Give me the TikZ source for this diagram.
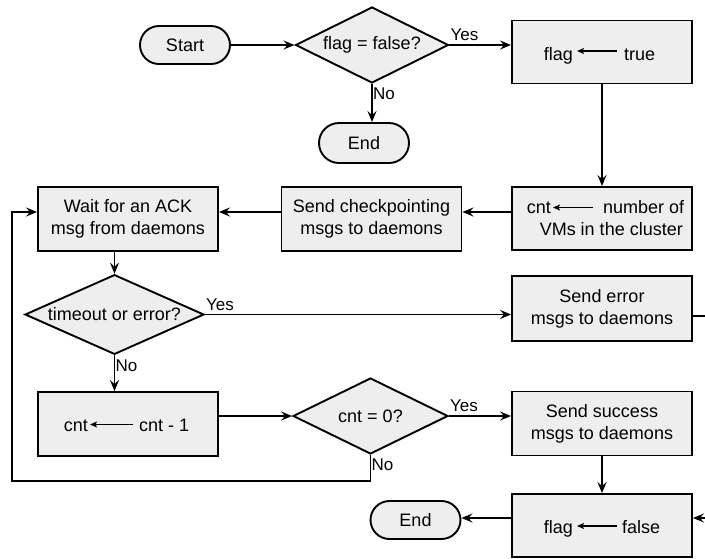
\documentclass[tikz,border=0pt]{standalone}
\usepackage{fontspec}
\setmainfont{Liberation Sans}
\usetikzlibrary{shapes.geometric,arrows.meta}
\definecolor{boxfill}{RGB}{238,238,238}
\begin{document}
\begin{tikzpicture}[x=1pt,y=-1pt,
 every node/.style={font=\fontsize{18}{22}\selectfont},
 box/.style={draw,line width=1.9pt,fill=boxfill,minimum width=180pt,minimum height=64pt,inner sep=0pt,align=center},
 term/.style={draw,line width=1.9pt,fill=boxfill,rounded corners=19pt,minimum width=90pt,minimum height=38pt,inner sep=0pt},
 dec/.style={draw,line width=1.9pt,fill=boxfill,diamond,aspect=2,inner sep=0pt},
 arr/.style={line width=1.9pt,-{Stealth[length=11pt,width=9pt,inset=4pt]}},
 lbl/.style={font=\fontsize{17}{20}\selectfont,inner sep=1pt},
 txt/.style={inner sep=0pt},
 sarr/.style={line width=1.2pt,-{Stealth[length=7pt,width=6pt,inset=1.5pt]}}]
\useasboundingbox (0,0) rectangle (705,558);
\clip (0,0) rectangle (705,558);
\fill[white] (0,0) rectangle (705,558);

% nodes
\node[term] (start) at (185,45) {Start};
\node[dec,minimum width=153pt,minimum height=76pt] (d1) at (372,45) {flag = false?};
\node[term,minimum height=40pt,rounded corners=20pt] (end1) at (364,143) {End};
\node[box,minimum height=63pt] (ft) at (602,52) {};
\node[box,minimum height=63pt] (cnt) at (602,218.5) {};
\node[box] (ck) at (371.5,219) {Send checkpointing\\msgs to daemons};
\node[box] (wait) at (128,219) {Wait for an ACK\\msg from daemons};
\node[dec,minimum width=179pt,minimum height=75pt] (d2) at (114.5,314.5) {timeout or error?};
\node[box,minimum height=65pt] (err) at (602,308.5) {Send error\\msgs to daemons};
\node[box] (cm1) at (128,424) {};
\node[dec,minimum width=155pt,minimum height=76pt] (d3) at (370.5,416) {cnt = 0?};
\node[box] (succ) at (602,423.5) {Send success\\msgs to daemons};
\node[box,minimum height=63pt] (ff) at (602,525.5) {};
\node[term] (end2) at (415.5,520) {End};

% texts inside assignment boxes
\node[txt,anchor=base east] (fta) at (573,60) {flag};
\node[txt,anchor=base west] (ftb) at (624,60) {true};
\draw[sarr,shorten <=7pt,shorten >=4pt] ([yshift=9pt]ftb.base west) -- ([yshift=9pt]fta.base east);

\node[txt,anchor=base east] (cnta) at (551,213) {cnt};
\node[txt,anchor=base west] (cntb) at (603,213) {number of};
\node[txt,anchor=base east] (cntc) at (683,235) {VMs in the cluster};
\draw[sarr,shorten <=10pt,shorten >=2pt] ([yshift=5.5pt]cntb.base west) -- ([yshift=5.5pt]cnta.base east);

\node[txt,anchor=base east] (cma) at (88,431) {cnt};
\node[txt,anchor=base west] (cmb) at (139,431) {cnt - 1};
\draw[sarr,shorten <=6pt,shorten >=2pt] ([yshift=6.5pt]cmb.base west) -- ([yshift=6.5pt]cma.base east);

\node[txt,anchor=base east] (ffa) at (573,533) {flag};
\node[txt,anchor=base west] (ffb) at (622,533) {false};
\draw[sarr,shorten <=5pt,shorten >=4pt] ([yshift=7pt]ffb.base west) -- ([yshift=7pt]ffa.base east);

% connectors
\draw[arr] (start.east) -- (d1.west);
\draw[arr] (d1.east) -- (d1.east -| ft.west);
\node[lbl,anchor=south west,yshift=3pt] (y1) at (d1.east) {Yes};
\draw[arr] (d1.south) -- (d1.south |- end1.north);
\node[lbl,anchor=north west,yshift=-3pt] (n1) at (d1.south) {No};
\draw[arr] (ft.south) -- (cnt.north);
\draw[arr] (cnt.west |- 0,212) -- (ck.east |- 0,212);
\draw[arr] (ck.west |- 0,212) -- (wait.east |- 0,212);
\draw[arr] (d2.north |- wait.south) -- (d2.north);
\draw[arr] (d2.east) -- (d2.east -| err.west);
\node[lbl,anchor=south west,yshift=3pt] (y2) at (d2.east) {Yes};
\draw[arr] (d2.south) -- (d2.south |- cm1.north);
\node[lbl,anchor=north west,yshift=-3pt] (n2) at (d2.south) {No};
\draw[arr] (cm1.east |- d3.west) -- (d3.west);
\draw[arr] (d3.east) -- (d3.east -| succ.west);
\node[lbl,anchor=south west,yshift=3pt] (y3) at (d3.east) {Yes};
\coordinate (lb) at (12,481);
\draw[arr] (d3.south) |- (lb) |- (wait.west |- 0,212);
\node[lbl,anchor=north west,yshift=-3pt] (n3) at (d3.south) {No};
\draw[arr] (succ.south) -- (ff.north);
\draw[arr] (ff.west |- 0,518) -- (end2.east |- 0,518);
\coordinate (rx) at (713,400);
\draw[arr] (err.east |- 0,316) -| (rx) |- (ff.east |- 0,518);
\end{tikzpicture}
\end{document}
